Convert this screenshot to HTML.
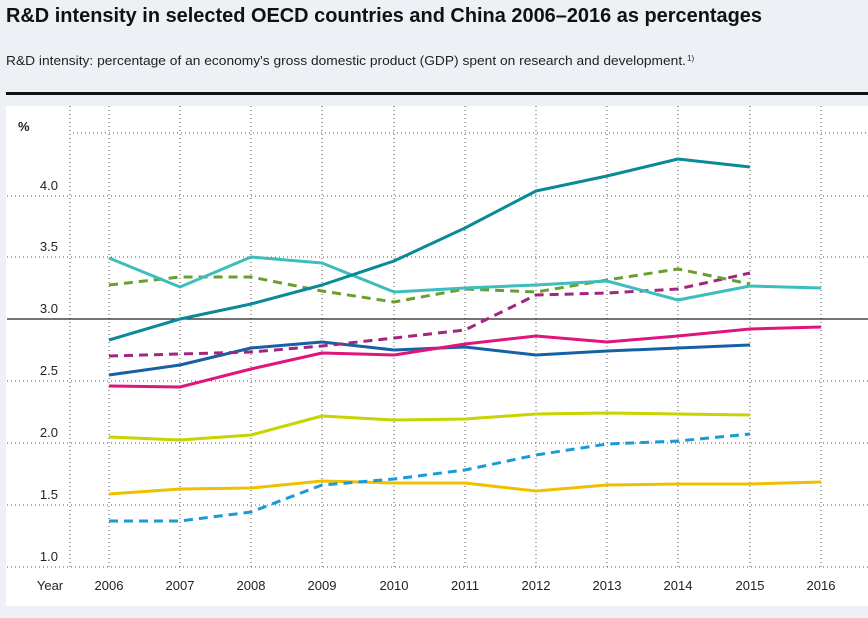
<!DOCTYPE html>
<html><head><style>
body{margin:0;width:868px;height:618px;background:#edf1f5;font-family:"Liberation Sans",sans-serif;overflow:hidden}
</style></head><body>
<svg width="868" height="618" xmlns="http://www.w3.org/2000/svg" style="position:absolute;left:0;top:0">
<text x="6" y="22" font-size="20" font-weight="bold" fill="#111" textLength="756" lengthAdjust="spacingAndGlyphs">R&amp;D intensity in selected OECD countries and China 2006–2016 as percentages</text>
<text x="6" y="65" font-size="12.5" fill="#222" textLength="680" lengthAdjust="spacingAndGlyphs">R&amp;D intensity: percentage of an economy's gross domestic product (GDP) spent on research and development.</text>
<text x="687" y="61" font-size="8" fill="#222">1)</text>
<rect x="6" y="92" width="862" height="3" fill="#111"/>
<rect x="6" y="106" width="862" height="500" fill="#fff"/>
<g stroke="#555" stroke-width="1" stroke-dasharray="1,3">
<line x1="73" y1="133" x2="868" y2="133"/>
<line x1="7" y1="196" x2="868" y2="196"/>
<line x1="7" y1="257" x2="868" y2="257"/>
<line x1="7" y1="381" x2="868" y2="381"/>
<line x1="7" y1="443" x2="868" y2="443"/>
<line x1="7" y1="505" x2="868" y2="505"/>
<line x1="7" y1="567" x2="868" y2="567"/>
<line x1="70" y1="106" x2="70" y2="567"/>
<line x1="109" y1="106" x2="109" y2="567"/><line x1="180" y1="106" x2="180" y2="567"/><line x1="251" y1="106" x2="251" y2="567"/><line x1="322" y1="106" x2="322" y2="567"/><line x1="394" y1="106" x2="394" y2="567"/><line x1="465" y1="106" x2="465" y2="567"/><line x1="536" y1="106" x2="536" y2="567"/><line x1="607" y1="106" x2="607" y2="567"/><line x1="678" y1="106" x2="678" y2="567"/><line x1="750" y1="106" x2="750" y2="567"/><line x1="821" y1="106" x2="821" y2="567"/>
</g>
<line x1="7" y1="319" x2="868" y2="319" stroke="#222" stroke-width="1.3"/>
<g font-size="13" fill="#222" text-anchor="end">
<text x="18" y="131" font-weight="bold" text-anchor="start">%</text>
<text x="58" y="190">4.0</text><text x="58" y="251">3.5</text><text x="58" y="313">3.0</text><text x="58" y="375">2.5</text><text x="58" y="437">2.0</text><text x="58" y="499">1.5</text><text x="58" y="561">1.0</text>
</g>
<g font-size="13" fill="#222" text-anchor="middle">
<text x="50" y="590">Year</text>
<text x="109" y="590">2006</text><text x="180" y="590">2007</text><text x="251" y="590">2008</text><text x="322" y="590">2009</text><text x="394" y="590">2010</text><text x="465" y="590">2011</text><text x="536" y="590">2012</text><text x="607" y="590">2013</text><text x="678" y="590">2014</text><text x="750" y="590">2015</text><text x="821" y="590">2016</text>
</g>
<g fill="none" stroke-width="3" stroke-linejoin="round">
<polyline stroke="#f0c000" points="109,494 180,489 251,488 322,481 394,483 465,483 536,491 607,485 678,484 750,484 821,482"/>
<polyline stroke="#1a9ad6" stroke-dasharray="9,6" points="109,521 180,521 251,512 322,485 394,479 465,470 536,455 607,444 678,441 750,434"/>
<polyline stroke="#c8d400" points="109,437 180,440 251,435 322,416 394,420 465,419 536,414 607,413 678,414 750,415"/>
<polyline stroke="#1660a6" points="109,375 180,365 251,348 322,342 394,350 465,347 536,355 607,351 678,348 750,345"/>
<polyline stroke="#e0147c" points="109,386 180,387 251,369 322,353 394,355 465,344 536,336 607,342 678,336 750,329 821,327"/>
<polyline stroke="#a3267e" stroke-dasharray="9,6" points="109,356 180,354 251,352 322,346 394,338 465,330 536,295 607,293 678,289 750,273"/>
<polyline stroke="#6a9e2f" stroke-dasharray="9,6" points="109,285 180,277 251,277 322,291 394,302 465,289 536,292 607,280 678,269 750,284"/>
<polyline stroke="#3dbdbd" points="109,258 180,287 251,257 322,263 394,292 465,288 536,285 607,281 678,300 750,286 821,288"/>
<polyline stroke="#0a8a96" points="109,340 180,319 251,304 322,285 394,261 465,228 536,191 607,176 678,159 750,167"/>
</g>
</svg>
</body></html>
